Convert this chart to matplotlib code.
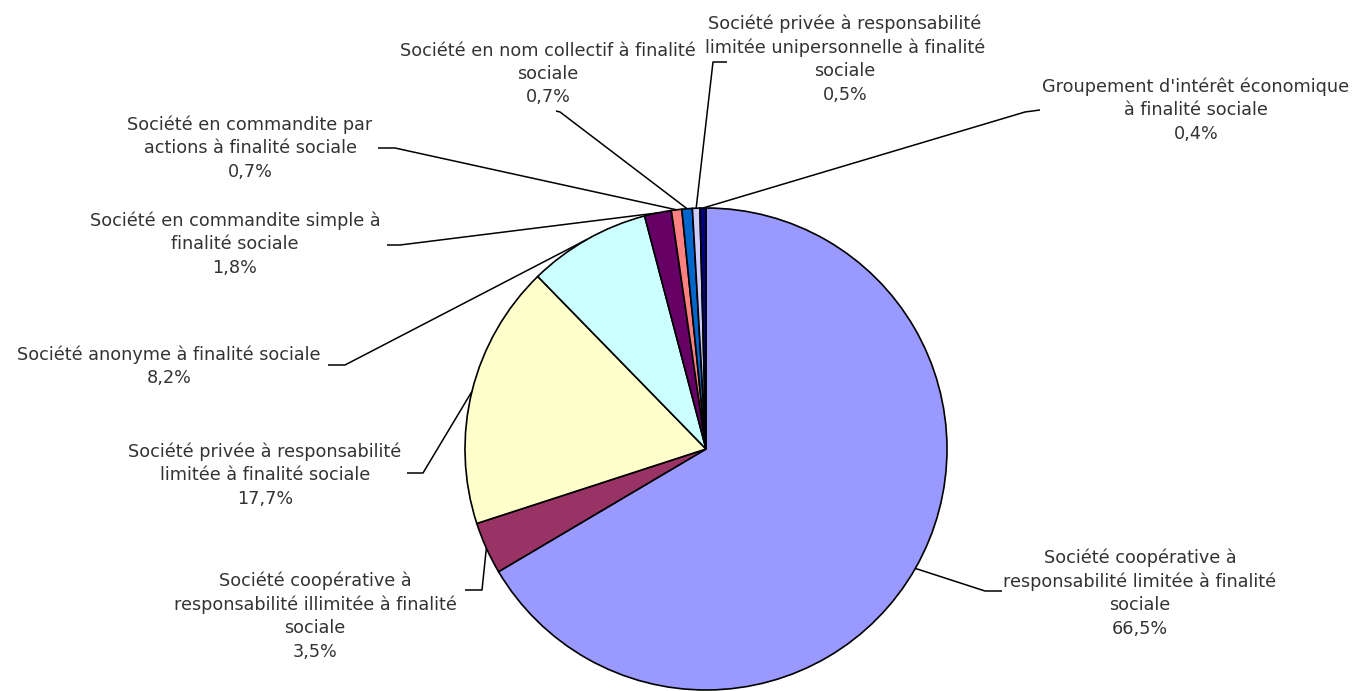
import numpy as np
import matplotlib
matplotlib.use("Agg")
import matplotlib.pyplot as plt

# Data: legal forms of social-purpose companies (share, %)
labels = [
    "Société coopérative à\nresponsabilité limitée à finalité\nsociale",
    "Société coopérative à\nresponsabilité illimitée à finalité\nsociale",
    "Société privée à responsabilité\nlimitée à finalité sociale",
    "Société anonyme à finalité sociale",
    "Société en commandite simple à\nfinalité sociale",
    "Société en commandite par\nactions à finalité sociale",
    "Société en nom collectif à finalité\nsociale",
    "Société privée à responsabilité\nlimitée unipersonnelle à finalité\nsociale",
    "Groupement d'intérêt économique\nà finalité sociale",
]
shares = [66.5, 3.5, 17.7, 8.2, 1.8, 0.7, 0.7, 0.5, 0.4]
colors = ["#9999FF", "#993366", "#FFFFCC", "#CCFFFF", "#660066",
          "#FF8080", "#0066CC", "#CCCCFF", "#000080"]

# Label layout (pixel coords, y measured from top)
text_pos = [(1140, 593), (315, 616), (265, 475), (169, 366), (235, 244),
            (250, 148), (548, 74), (845, 59), (1196, 110)]
# leader line: label end, then bend point, then to the wedge edge
leader_end = [(1002, 591), (465, 590), (407, 473), (328, 365), (387, 245),
              (378, 148), (556, 111), (727, 62), (1040, 110)]
leader_bend = [(985, 591), (482, 590), (423, 473), (345, 365), (400, 245),
               (395, 148), (560, 112), (713, 62), (1025, 112)]

W, H = 1356, 691
fig = plt.figure(figsize=(W / 100, H / 100), dpi=100)
ax = fig.add_axes([0, 0, 1, 1])

def fy(py):
    return H - py

wedges, _ = ax.pie(shares, colors=colors, startangle=90, counterclock=False,
                   center=(706, fy(449)), radius=241,
                   wedgeprops=dict(edgecolor="black", linewidth=1.2))

for w, lab, v, tp, le, lb in zip(wedges, labels, shares, text_pos, leader_end, leader_bend):
    mid = np.deg2rad((w.theta1 + w.theta2) / 2)
    ex = w.center[0] + w.r * np.cos(mid)
    ey = w.center[1] + w.r * np.sin(mid)
    ax.plot([le[0], lb[0], ex], [fy(le[1]), fy(lb[1]), ey], color="black", lw=1.1,
            solid_capstyle="butt")
    pct = f"{v:.1f}%".replace(".", ",")
    ax.text(tp[0], fy(tp[1]), lab + "\n" + pct, ha="center", va="center",
            multialignment="center", fontsize=12.7, family="DejaVu Sans",
            color="#333333", linespacing=1.38)

ax.set_xlim(0, W)
ax.set_ylim(0, H)
ax.set_aspect("equal")
ax.axis("off")

fig.savefig("out.png", dpi=100)
